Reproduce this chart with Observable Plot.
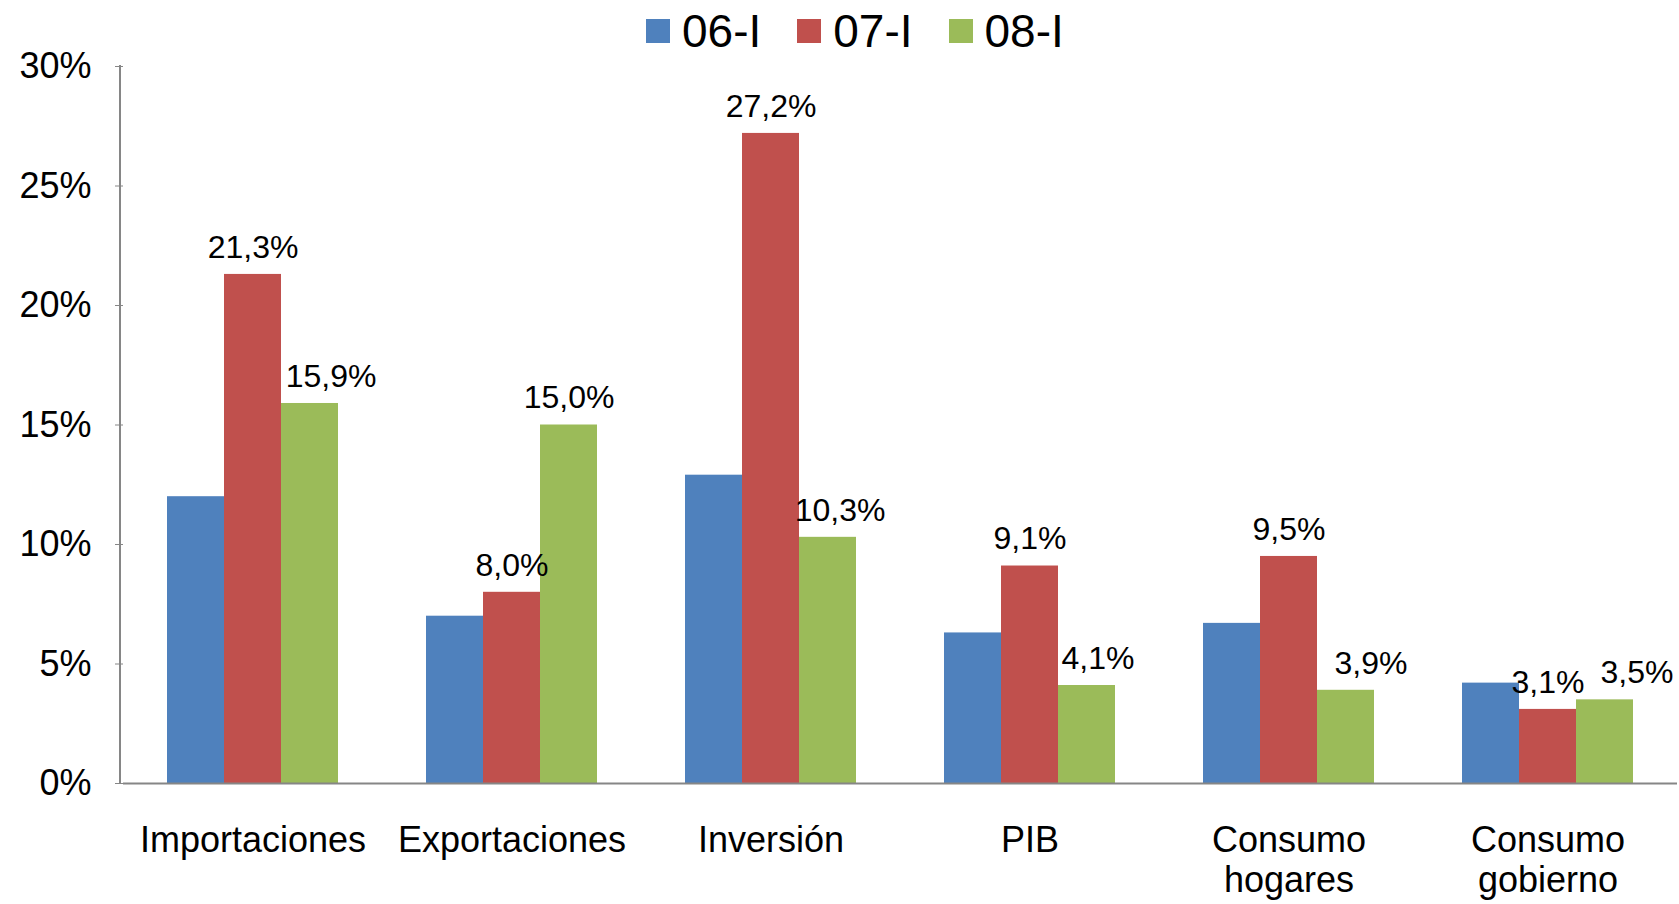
<!DOCTYPE html>
<html>
<head>
<meta charset="utf-8">
<script src="https://cdn.jsdelivr.net/npm/d3@7"></script>
<script src="https://cdn.jsdelivr.net/npm/@observablehq/plot@0.6"></script>
<style>
  html, body { margin: 0; padding: 0; background: #fff; }
  body { width: 1679px; height: 904px; position: relative; overflow: hidden; font-family: "Liberation Sans", Arial, sans-serif; }
  #legend { position: absolute; left: 646px; top: 8px; display: flex; align-items: center; font-size: 46px; line-height: 46px; color: #000; }
  #legend .item { display: flex; align-items: center; margin-right: 36px; }
  #legend .sw { width: 24px; height: 24px; margin-right: 12px; }
  #chart { position: absolute; left: 0; top: 0; }
  svg { overflow: visible; }
</style>
</head>
<body>
<div id="chart"></div>
<div id="legend"></div>
<script>
const categories = ["Importaciones", "Exportaciones", "Inversión", "PIB", "Consumo\nhogares", "Consumo\ngobierno"];
const series = ["06-I", "07-I", "08-I"];
const colors = ["#4F81BD", "#C0504D", "#9BBB59"];
const v06 = [12.0, 7.0, 12.9, 6.3, 6.7, 4.2];
const v07 = [21.3, 8.0, 27.2, 9.1, 9.5, 3.1];
const v08 = [15.9, 15.0, 10.3, 4.1, 3.9, 3.5];
const labeledSeries = ["07-I", "08-I"];
const yTicks = [0, 5, 10, 15, 20, 25, 30];

// label placement nudges (px) for the 08-I labels, as placed in the original
const nudge08 = {"Importaciones": 21, "Exportaciones": 0, "Inversión": 12, "PIB": 11, "Consumo\nhogares": 25, "Consumo\ngobierno": 32};

const valuesBySeries = [v06, v07, v08];
const data = [];
categories.forEach((c, i) => {
  series.forEach((s, j) => data.push({cat: c, series: s, value: valuesBySeries[j][i]}));
});
const fmt = d => d.toFixed(1).replace(".", ",") + "%";
const labelData = data.filter(d => labeledSeries.includes(d.series));

const ML = 120;
const plot = Plot.plot({
  width: 1679,
  height: 904,
  marginLeft: ML,
  marginRight: 0,
  marginTop: 66,
  marginBottom: 121,
  style: {fontFamily: "'Liberation Sans', Arial, sans-serif", color: "#000", background: "#fff"},
  fx: {domain: categories, padding: 0, label: null},
  x: {domain: series, paddingInner: 0, paddingOuter: 0.74, axis: null},
  y: {domain: [0, 30], label: null},
  color: {domain: series, range: colors},
  marks: [
    Plot.barY(data, {fx: "cat", x: "series", y: "value", fill: "series", inset: 0}),
    Plot.ruleY([0], {stroke: "#868686", strokeWidth: 2}),
    Plot.axisY({ticks: yTicks, tickFormat: d => d + "%", tickSize: 8, tickPadding: 24, stroke: "#868686", fontSize: 36, fill: "#000", label: null}),
    Plot.axisFx({anchor: "bottom", tickSize: 0, tickPadding: 40, fontSize: 36, lineHeight: 1.12, fill: "#000", label: null}),
    Plot.text(labelData.filter(d => d.series === "07-I"), {
      fx: "cat", x: "series", y: "value", text: d => fmt(d.value),
      lineAnchor: "middle", dy: -27, fontSize: 32, fill: "#000"
    }),
    ...categories.map(c => Plot.text(labelData.filter(d => d.series === "08-I" && d.cat === c), {
      fx: "cat", x: "series", y: "value", text: d => fmt(d.value),
      lineAnchor: "middle", dy: -27, dx: nudge08[c], fontSize: 32, fill: "#000"
    }))
  ]
});
// vertical value-axis line, placed with the plot's own y scale
const ys = plot.scale("y");
d3.select(plot).append("line")
  .attr("x1", ML).attr("x2", ML)
  .attr("y1", ys.apply(30) - 1).attr("y2", ys.apply(0))
  .attr("stroke", "#868686").attr("stroke-width", 2);
document.getElementById("chart").appendChild(plot);

const legend = document.getElementById("legend");
series.forEach((s, j) => {
  const item = document.createElement("div");
  item.className = "item";
  const sw = document.createElement("div");
  sw.className = "sw";
  sw.style.background = colors[j];
  const t = document.createElement("span");
  t.textContent = s;
  item.appendChild(sw);
  item.appendChild(t);
  legend.appendChild(item);
});
</script>
</body>
</html>
